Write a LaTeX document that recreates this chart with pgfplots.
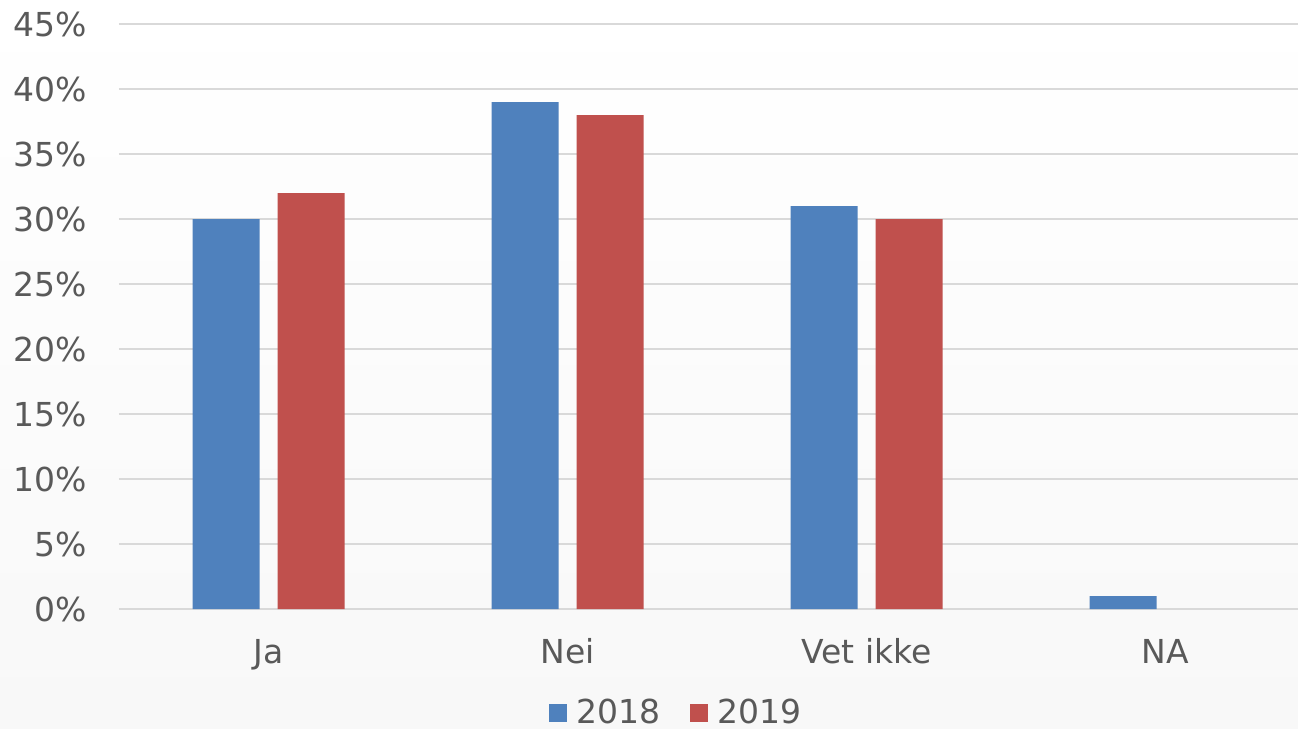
\documentclass[border=0pt]{standalone}
\usepackage{pgfplots}
\pgfplotsset{compat=1.18}
\usepackage{fontspec}
\setmainfont{DejaVu Sans}
\definecolor{blueS}{HTML}{4F81BD}
\definecolor{redS}{HTML}{C0504D}
\definecolor{txt}{HTML}{595959}
\definecolor{gridc}{HTML}{D9D9D9}
\definecolor{bgbot}{HTML}{F8F8F8}
\begin{document}
\begin{tikzpicture}
\useasboundingbox (-59.5pt,-60pt) rectangle (589.5pt,304.5pt);
\shade[top color=white, bottom color=bgbot] (-59.5pt,-60pt) rectangle (589.5pt,304.5pt);
\begin{axis}[
  at={(0,0)}, anchor=south west, scale only axis,
  width=589.5pt, height=292.5pt,
  xmin=-0.5, xmax=3.443, ymin=0, ymax=45,
  ybar, bar width=33.5pt,
  axis line style={draw=none},
  ymajorgrids, major grid style={gridc, line width=1pt},
  major tick length=0pt,
  xtick={0,1,2,3}, xticklabels={Ja,Nei,Vet ikke,NA},
  ytick={0,5,...,45},
  yticklabels={0\%,5\%,10\%,15\%,20\%,25\%,30\%,35\%,40\%,45\%},
  tick label style={font=\fontsize{16.5}{20}\selectfont, text=txt},
  yticklabel style={anchor=east, inner sep=0pt, xshift=-16pt},
  xticklabel style={anchor=base, inner sep=0pt, yshift=-27pt},
  legend style={at={(axis description cs:0.4716,-0.178)}, anchor=center,
    draw=none, fill=none, font=\fontsize{16.5}{20}\selectfont, text=txt,
    legend columns=2, inner sep=0pt, outer sep=0pt,
    /tikz/every odd column/.append style={column sep=5pt},
    /tikz/every even column/.append style={column sep=14.5pt},
    nodes={inner sep=0pt}},
  legend image code/.code={\fill[#1] (0pt,-4.5pt) rectangle (9pt,4.5pt);},
]
\addplot[fill=blueS, draw=none, bar shift=-21.25pt] coordinates {(0,30) (1,39) (2,31) (3,1)};
\addplot[fill=redS, draw=none, bar shift=21.25pt] coordinates {(0,32) (1,38) (2,30)};
\legend{2018,2019}
\end{axis}
\end{tikzpicture}
\end{document}
